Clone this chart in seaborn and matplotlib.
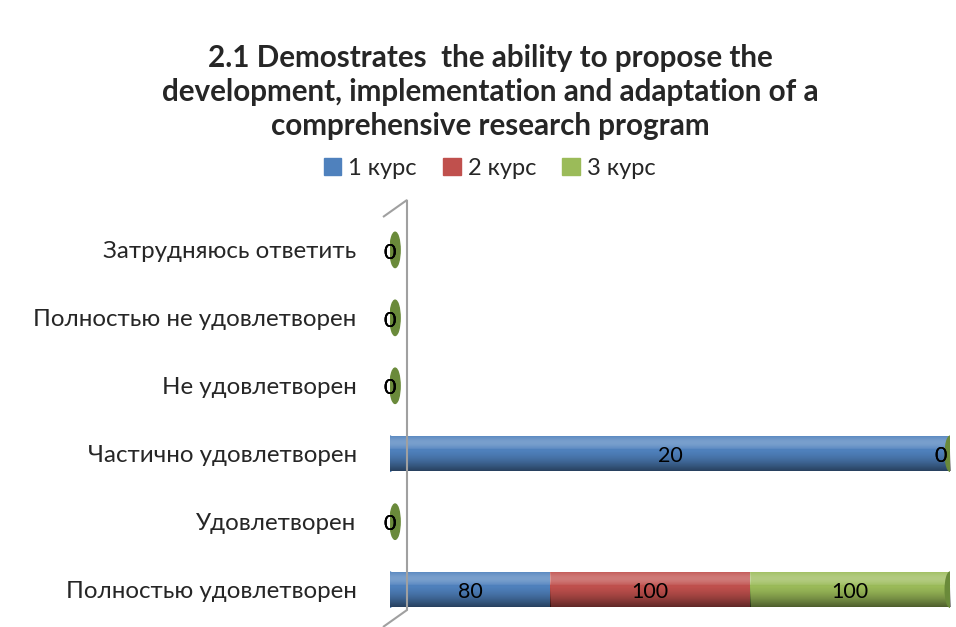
import numpy as np
import pandas as pd
import matplotlib
matplotlib.use("Agg")
import matplotlib.pyplot as plt
import seaborn as sns
from matplotlib.patches import Ellipse, Polygon, Patch

# data (top to bottom as shown)
categories = ["Затрудняюсь ответить", "Полностью не удовлетворен", "Не удовлетворен",
              "Частично удовлетворен", "Удовлетворен", "Полностью удовлетворен"]
series = ["1 курс", "2 курс", "3 курс"]
kurs1 = [0, 0, 0, 20, 0, 80]
kurs2 = [0, 0, 0, 0, 0, 100]
kurs3 = [0, 0, 0, 0, 0, 100]
colors = ["#4F81BD", "#C0504D", "#9BBB59"]
cap_color = "#6A8A3A"

sns.set_theme(style="white")
plt.rcParams["font.family"] = ["Lato", "DejaVu Sans"]

vals = np.array([kurs1, kurs2, kurs3], dtype=float)
tot = vals.sum(axis=0)
pct = np.divide(vals, tot, out=np.zeros_like(vals), where=tot > 0) * 100
cum = np.cumsum(pct, axis=0)

fig = plt.figure(figsize=(9.56, 6.27), dpi=100)
ax = fig.add_axes([0.408, 0.0, 0.586, 0.673])

# stacked bars: cumulative totals drawn back to front
for i in [2, 1, 0]:
    df = pd.DataFrame({"cat": categories, "val": cum[i]})
    sns.barplot(data=df, y="cat", x="val", order=categories, color=colors[i],
                saturation=1, width=0.52, ax=ax, orient="h", linewidth=0)

# cylinder shading
t = np.linspace(0, 1, 60)
grad = np.zeros((60, 1, 4))
grad[:, 0, :3] = np.where(t[:, None] < 0.4, 1.0, 0.0)
grad[:, 0, 3] = np.where(t < 0.4, 0.2 * np.sin(np.pi * t / 0.4) + 0.04, 0.5 * ((t - 0.4) / 0.6) ** 1.5)
for r in range(len(categories)):
    left = 0
    for i in range(3):
        w = pct[i, r]
        if w > 0:
            ax.imshow(grad, extent=[left, left + w, r + 0.26, r - 0.26], aspect="auto",
                      zorder=3, interpolation="bilinear")
        left += w
    if tot[r] > 0:
        ax.add_patch(Ellipse((0, r), 1.6, 0.52, color=colors[0], zorder=2))
    xe = cum[2, r] + 0.9 if tot[r] == 0 else cum[2, r]
    ax.add_patch(Ellipse((xe, r), 1.8, 0.52, color=cap_color, zorder=4))

# data labels
for r in range(len(categories)):
    left = 0
    for i in range(3):
        w = pct[i, r]
        x = left + w / 2
        if w == 0 and left >= 99:
            x = 98.3
        ax.text(x, r + 0.04, f"{vals[i, r]:g}", ha="center", va="center", fontsize=15.5,
                color="black", zorder=5)
        left += w

ax.set_xlim(0, 100)
ax.set_ylim(5.55, -0.66)
ax.set_xlabel("")
ax.set_ylabel("")
ax.set_xticks([])
ax.tick_params(axis="y", length=0, pad=24, labelsize=17.4)
for s in ax.spines.values():
    s.set_visible(False)

# side wall
fig.patches.append(Polygon([(383 / 956, 1 - 217 / 627), (407 / 956, 1 - 200 / 627),
                            (407 / 956, 1 - 610 / 627), (383 / 956, 0.0),
                            (383 / 956, 1 - 217 / 627)],
                           closed=False, fill=False, edgecolor="#A0A0A0", lw=1.5,
                           transform=fig.transFigure, zorder=0))

fig.text(0.513, 0.853, "2.1 Demostrates  the ability to propose the\n"
         "development, implementation and adaptation of a\ncomprehensive research program",
         ha="center", va="center", fontsize=21.3, fontweight="bold", linespacing=1.26)

handles = [Patch(color=c, label=s) for c, s in zip(colors, series)]
fig.legend(handles=handles, loc="center", bbox_to_anchor=(0.512, 0.732), ncol=3,
           frameon=False, fontsize=17, handlelength=0.75, handleheight=0.75,
           handletextpad=0.3, columnspacing=1.1)

fig.savefig("out.png", dpi=100)
